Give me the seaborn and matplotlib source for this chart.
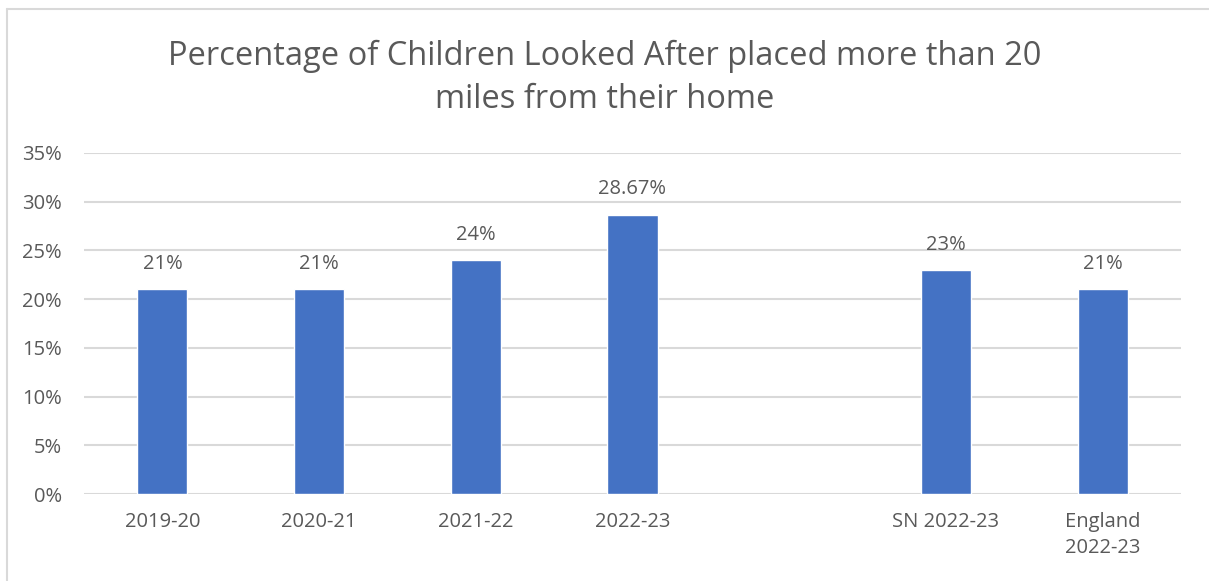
import numpy as np
import pandas as pd
import matplotlib
matplotlib.use("Agg")
import matplotlib.pyplot as plt
import seaborn as sns
from matplotlib.ticker import PercentFormatter

# Data
categories = ["2019-20", "2020-21", "2021-22", "2022-23", "", "SN 2022-23", "England\n2022-23"]
values = [0.21, 0.21, 0.24, 0.2867, np.nan, 0.23, 0.21]
title = "Percentage of Children Looked After placed more than 20\nmiles from their home"

TEXT = "#595959"
BAR = "#4472C4"
GRID = "#D9D9D9"

sns.set_theme(style="white")
plt.rcParams["font.family"] = ["Open Sans", "DejaVu Sans"]

df = pd.DataFrame({"period": categories, "share": values})

fig = plt.figure(figsize=(12.09, 5.81), dpi=100)
ax = fig.add_axes([0.0695, 0.1497, 0.9073, 0.587])

sns.barplot(data=df, x="period", y="share", order=categories, color=BAR,
            saturation=1, width=0.32, ax=ax, errorbar=None)

ax.set_ylim(0, 0.35)
ax.set_xlim(-0.5, len(categories) - 0.5)
ax.set_yticks(np.arange(0, 0.351, 0.05))
ax.yaxis.set_major_formatter(PercentFormatter(1.0, decimals=0))
ax.grid(axis="y", color=GRID, linewidth=1.5)
ax.set_axisbelow(True)
for s in ax.spines.values():
    s.set_visible(False)
ax.set_xlabel("")
ax.set_ylabel("")
ax.tick_params(axis="both", length=0, colors=TEXT, labelsize=14.5)
ax.tick_params(axis="x", pad=13)
ax.tick_params(axis="y", pad=16)
for lbl in ax.get_xticklabels():
    lbl.set_linespacing(1.4)

# Value labels above bars
for i, v in enumerate(values):
    if np.isnan(v):
        continue
    ax.annotate(f"{v * 100:g}%", (i, v), xytext=(0, 11), textcoords="offset points",
                ha="center", va="bottom", color=TEXT, fontsize=14.5)

fig.text(0.5, 0.932, title, ha="center", va="top", color=TEXT, fontsize=23.5,
         linespacing=1.4)

# Thin outer frame
fig.add_artist(plt.Line2D([0.006, 0.006], [0, 0.985], color=GRID, lw=1.5,
                          transform=fig.transFigure))
fig.add_artist(plt.Line2D([0.006, 1], [0.985, 0.985], color=GRID, lw=1.5,
                          transform=fig.transFigure))

fig.savefig("out.png", dpi=100, facecolor="white")
